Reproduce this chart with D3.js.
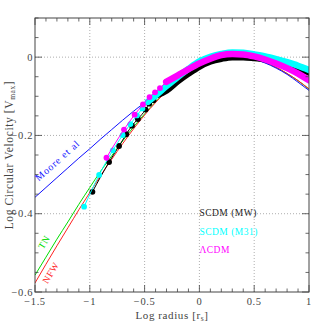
<!DOCTYPE html>
<html>
<head>
<meta charset="utf-8">
<script src="https://cdn.jsdelivr.net/npm/d3@7"></script>
<style>
  body { margin: 0; background: #fff; }
  svg { display: block; }
  text { font-family: "Liberation Serif", "DejaVu Serif", serif; }
</style>
</head>
<body>
<div id="chart"></div>
<script>
// Profile curves (log r, log V/Vmax)
const profileX = [-1.5, -1.4, -1.3, -1.2, -1.1, -1.0, -0.9, -0.8, -0.7, -0.6, -0.5, -0.4, -0.3,
  -0.2, -0.1, 0, 0.1, 0.2, 0.3, 0.4, 0.5, 0.6, 0.7, 0.8, 0.9, 1.0];
const nfwY = [-0.577, -0.529, -0.482, -0.436, -0.390, -0.346, -0.302, -0.261, -0.221, -0.183, -0.148,
  -0.116, -0.088, -0.063, -0.041, -0.025, -0.012, -0.004, 0.000, -0.001, -0.006, -0.014, -0.026,
  -0.042, -0.060, -0.081];
const tnY = [-0.557, -0.511, -0.465, -0.421, -0.376, -0.333, -0.291, -0.252, -0.214, -0.178, -0.145,
  -0.114, -0.087, -0.063, -0.041, -0.025, -0.012, -0.004, 0.000, -0.001, -0.006, -0.014, -0.026,
  -0.042, -0.060, -0.082];
const mooreY = [-0.358, -0.333, -0.308, -0.283, -0.258, -0.234, -0.209, -0.185, -0.161, -0.138, -0.116,
  -0.094, -0.073, -0.054, -0.037, -0.023, -0.012, -0.004, 0.000, -0.001, -0.006, -0.015, -0.028,
  -0.044, -0.064, -0.085];

// Simulated halos: resolved inner points, then the dense band of points
const mwDotX = [-0.976, -0.824, -0.733, -0.667, -0.615, -0.561, -0.491, -0.458, -0.418, -0.388];
const mwDotY = [-0.344, -0.268, -0.227, -0.197, -0.175, -0.158, -0.134, -0.119, -0.110, -0.097];
const mwBandX = [-0.388, -0.3, -0.2, -0.1, 0, 0.1, 0.2, 0.3, 0.4, 0.5, 0.6, 0.7, 0.8, 0.9, 1.0];
const mwBandY = [-0.097, -0.085, -0.062, -0.042, -0.024, -0.011, -0.004, 0.000, 0.000, -0.002,
  -0.005, -0.010, -0.017, -0.027, -0.039];

const m31DotX = [-1.052, -0.915, -0.790, -0.700, -0.630, -0.570, -0.520, -0.470];
const m31DotY = [-0.382, -0.301, -0.238, -0.199, -0.171, -0.149, -0.131, -0.114];
const m31BandX = [-0.470, -0.4, -0.3, -0.2, -0.1, 0, 0.1, 0.2, 0.3, 0.4, 0.5, 0.6, 0.7, 0.8, 0.9, 1.0];
const m31BandY = [-0.114, -0.098, -0.074, -0.051, -0.030, -0.011, 0.001, 0.008, 0.012, 0.011, 0.007,
  0.002, -0.005, -0.013, -0.022, -0.033];

const lcdmDotX = [-0.848, -0.688, -0.591, -0.515, -0.455, -0.405, -0.360, -0.303];
const lcdmDotY = [-0.257, -0.185, -0.147, -0.121, -0.102, -0.090, -0.079, -0.063];
const lcdmBandX = [-0.303, -0.2, -0.1, 0, 0.1, 0.2, 0.3, 0.4, 0.5, 0.6, 0.7, 0.8, 0.9, 1.0];
const lcdmBandY = [-0.063, -0.047, -0.031, -0.016, -0.004, 0.005, 0.008, 0.007, 0.002, -0.006,
  -0.016, -0.028, -0.042, -0.059];

const xMajor = [-1.5, -1, -0.5, 0, 0.5, 1];
const yMajor = [0, -0.2, -0.4, -0.6];
const xGrid = [-1, -0.5, 0, 0.5];
const yGrid = [0, -0.2, -0.4];

const legendNames = ['SCDM (MW)', 'SCDM (M31)', 'ΛCDM'];
const legendColors = ['#000000', '#00ffff', '#ff00ff'];

const W = 327, H = 327;
const margin = { left: 35, right: 18, top: 18, bottom: 35 };

const svg = d3.select('#chart').append('svg')
  .attr('width', W)
  .attr('height', H);

const x = d3.scaleLinear().domain([-1.5, 1]).range([margin.left, W - margin.right]);
const y = d3.scaleLinear().domain([-0.6, 0.1]).range([H - margin.bottom, margin.top]);

svg.append('defs').append('clipPath').attr('id', 'plotclip')
  .append('rect')
  .attr('x', x(-1.5)).attr('y', y(0.1))
  .attr('width', x(1) - x(-1.5)).attr('height', y(-0.6) - y(0.1));

// dotted grid
const grid = svg.append('g').attr('stroke', '#999').attr('stroke-width', 0.8)
  .attr('stroke-dasharray', '1,2');
grid.selectAll('.gx').data(xGrid).enter().append('line')
  .attr('x1', d => x(d)).attr('x2', d => x(d))
  .attr('y1', y(0.1)).attr('y2', y(-0.6));
grid.selectAll('.gy').data(yGrid).enter().append('line')
  .attr('y1', d => y(d)).attr('y2', d => y(d))
  .attr('x1', x(-1.5)).attr('x2', x(1));

const plot = svg.append('g').attr('clip-path', 'url(#plotclip)');

function pairs(xs, ys) {
  return xs.map((v, i) => [v, ys[i]]);
}

const line = d3.line()
  .x(d => x(d[0]))
  .y(d => y(d[1]))
  .curve(d3.curveMonotoneX);

// analytic profiles
[[tnY, '#00dd00'], [nfwY, '#ff2020'], [mooreY, '#1010ff']].forEach(([ys, c]) => {
  plot.append('path')
    .datum(pairs(profileX, ys))
    .attr('d', line)
    .attr('fill', 'none')
    .attr('stroke', c)
    .attr('stroke-width', 1);
});

// simulated halos
const series = [
  [mwDotX, mwDotY, mwBandX, mwBandY, legendColors[0]],
  [m31DotX, m31DotY, m31BandX, m31BandY, legendColors[1]],
  [lcdmDotX, lcdmDotY, lcdmBandX, lcdmBandY, legendColors[2]]
];

series.forEach(([dx, dy, bx, by, c]) => {
  const g = plot.append('g');
  g.append('path')
    .datum(pairs(dx, dy))
    .attr('d', line)
    .attr('fill', 'none')
    .attr('stroke', c)
    .attr('stroke-width', 1);
  g.append('path')
    .datum(pairs(bx, by))
    .attr('d', line)
    .attr('fill', 'none')
    .attr('stroke', c)
    .attr('stroke-width', 6.5)
    .attr('stroke-linecap', 'round');
  g.selectAll('circle')
    .data(pairs(dx, dy))
    .enter()
    .append('circle')
    .attr('cx', d => x(d[0]))
    .attr('cy', d => y(d[1]))
    .attr('r', 2.9)
    .attr('fill', c);
});

// frame
svg.append('rect')
  .attr('x', x(-1.5)).attr('y', y(0.1))
  .attr('width', x(1) - x(-1.5)).attr('height', y(-0.6) - y(0.1))
  .attr('fill', 'none').attr('stroke', '#444').attr('stroke-width', 1);

// inward ticks on all four sides
const ticks = svg.append('g').attr('stroke', '#444').attr('stroke-width', 0.8);
const xMinor = d3.range(-15, 11).map(i => i / 10);
const yMinor = d3.range(-12, 3).map(i => i / 20);
xMinor.forEach(v => {
  const len = xMajor.some(m => Math.abs(m - v) < 1e-6) ? 7 : 3.5;
  ticks.append('line').attr('x1', x(v)).attr('x2', x(v))
    .attr('y1', y(-0.6)).attr('y2', y(-0.6) - len);
  ticks.append('line').attr('x1', x(v)).attr('x2', x(v))
    .attr('y1', y(0.1)).attr('y2', y(0.1) + len);
});
yMinor.forEach(v => {
  const len = yMajor.some(m => Math.abs(m - v) < 1e-6) ? 7 : 3.5;
  ticks.append('line').attr('y1', y(v)).attr('y2', y(v))
    .attr('x1', x(-1.5)).attr('x2', x(-1.5) + len);
  ticks.append('line').attr('y1', y(v)).attr('y2', y(v))
    .attr('x1', x(1)).attr('x2', x(1) - len);
});

// tick labels
const fmt = d => (d < 0 ? '\u2212' : '') + Math.abs(d);
svg.append('g').selectAll('text').data(xMajor).enter().append('text')
  .attr('x', d => x(d)).attr('y', y(-0.6) + 12.5)
  .attr('text-anchor', 'middle')
  .attr('font-size', 10.5).attr('letter-spacing', 0.6).attr('fill', '#444')
  .text(fmt);
svg.append('g').selectAll('text').data(yMajor).enter().append('text')
  .attr('x', x(-1.5) - 2).attr('y', d => y(d) + 3.5)
  .attr('text-anchor', 'end')
  .attr('font-size', 10.5).attr('letter-spacing', 0.6).attr('fill', '#444')
  .text(fmt);

// axis titles
const xt = svg.append('text')
  .attr('x', (x(-1.5) + x(1)) / 2).attr('y', 319)
  .attr('text-anchor', 'middle').attr('font-size', 11)
  .attr('letter-spacing', 0.6).attr('fill', '#444');
xt.append('tspan').text('Log radius [r');
xt.append('tspan').attr('font-size', 7.5).attr('dy', 2).text('s');
xt.append('tspan').attr('dy', -2).text(']');

const yt = svg.append('text')
  .attr('transform', `translate(13,${(y(0.1) + y(-0.6)) / 2}) rotate(-90)`)
  .attr('text-anchor', 'middle').attr('font-size', 11.5)
  .attr('letter-spacing', 0.6).attr('fill', '#444');
yt.append('tspan').text('Log Circular Velocity  [V');
yt.append('tspan').attr('font-size', 7.5).attr('dy', 2).text('max');
yt.append('tspan').attr('dy', -2).text(']');

// profile labels along the lines
function angleAt(xs, ys, v) {
  const i = xs.findIndex(t => t >= v);
  const dxp = x(xs[i + 1]) - x(xs[i]);
  const dyp = y(ys[i + 1]) - y(ys[i]);
  return Math.atan2(dyp, dxp) * 180 / Math.PI;
}
svg.append('text')
  .attr('transform', `translate(${x(-1.465)},${y(-0.318)}) rotate(${angleAt(profileX, mooreY, -1.4)})`)
  .attr('font-size', 10).attr('letter-spacing', 0.9).attr('fill', '#1010ff')
  .text('Moore et al');
svg.append('text')
  .attr('transform', `translate(${x(-1.425)},${y(-0.492)}) rotate(${angleAt(profileX, tnY, -1.4)})`)
  .attr('font-size', 9.5).attr('letter-spacing', 0.6).attr('fill', '#00dd00')
  .text('TN');
svg.append('text')
  .attr('transform', `translate(${x(-1.385)},${y(-0.58)}) rotate(${angleAt(profileX, nfwY, -1.4)})`)
  .attr('font-size', 9.5).attr('letter-spacing', 0.6).attr('fill', '#ff2020')
  .text('NFW');

// legend
svg.append('g').selectAll('text').data(legendNames).enter().append('text')
  .attr('x', x(0)).attr('y', (d, i) => 216 + i * 18.5)
  .attr('font-size', 9.5).attr('letter-spacing', 0.5)
  .attr('fill', (d, i) => i === 0 ? '#222' : legendColors[i])
  .text(d => d);
</script>
</body>
</html>
